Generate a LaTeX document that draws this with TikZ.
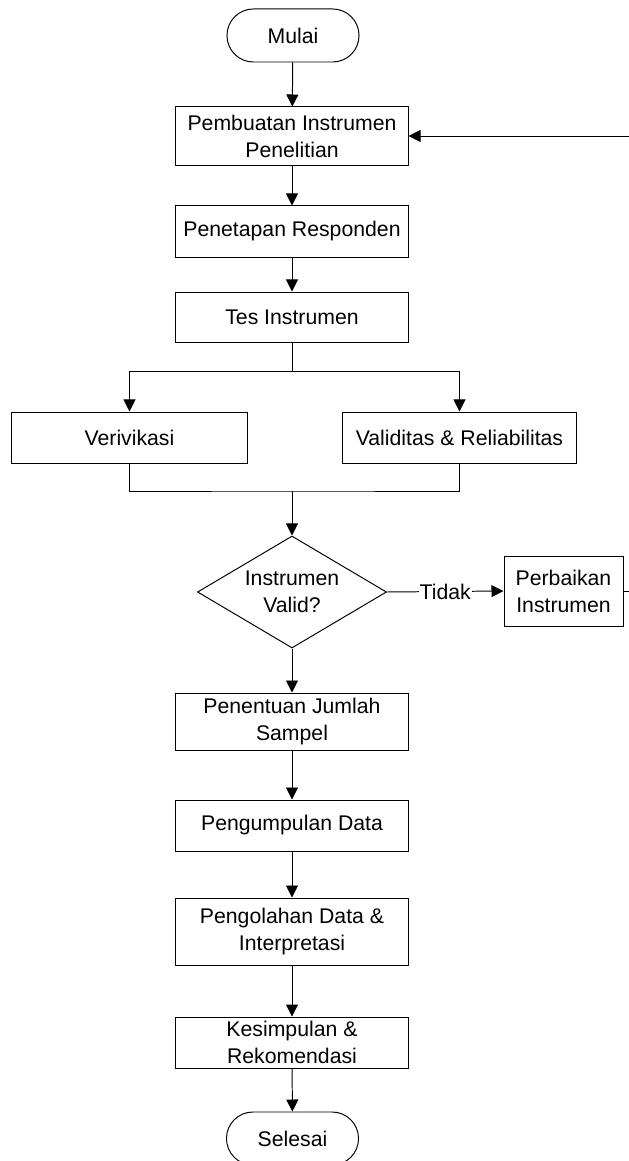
\documentclass[tikz,border=0pt]{standalone}
\usepackage{fontspec}
\setmainfont{Liberation Sans}
\usetikzlibrary{shapes.geometric,arrows.meta}

\tikzset{
  kotak/.style={draw,rectangle,minimum width=5.8cm,inner sep=0pt,align=center},
  terminal/.style={draw,rectangle,rounded corners=0.66cm,minimum width=3.3cm,minimum height=1.325cm,inner sep=0pt},
  keputusan/.style={draw,diamond,aspect=1.69,minimum width=4.725cm,minimum height=2.8cm,inner sep=0pt,align=center},
  panah/.style={-{Triangle[length=0.3cm,width=0.3cm]}}
}

\begin{document}
\begin{tikzpicture}[x=0.025cm,y=-0.025cm,line width=0.7pt,
    every node/.style={font=\fontsize{15.1}{19.2}\selectfont}]
    \useasboundingbox (0,0) rectangle (629,1161);
    % alur utama
    \node[terminal] (mulai) at (293,35.5) {Mulai};
    \node[kotak,minimum height=1.45cm] (buat) at (292,136) {Pembuatan Instrumen\\Penelitian};
    \node[kotak,minimum height=1.275cm] (tetap) at (292,231.5) {Penetapan Responden};
    \node[kotak,minimum height=1.25cm] (tes) at (292,317) {Tes Instrumen};
    \node[kotak,minimum width=5.875cm,minimum height=1.275cm] (verif) at (129.5,437.5) {Verivikasi};
    \node[kotak,minimum width=5.825cm,minimum height=1.275cm] (valid) at (459.5,437.5) {Validitas \& Reliabilitas};
    \coordinate (gabung) at (292,491);
    \node[keputusan] (cek) at (292,592) {Instrumen\\Valid?};
    \node[kotak,minimum width=2.975cm,minimum height=1.75cm] (perbaiki) at (563.5,591) {Perbaikan\\Instrumen};
    \coordinate (kanan1) at (629,591);
    \coordinate (kanan2) at (629,136);
    \node[kotak,minimum height=1.425cm] (sampel) at (292,721.5) {Penentuan Jumlah\\Sampel};
    \node[kotak,minimum height=1.275cm] (kumpul) at (292,825.5) {Pengumpulan Data};
    \node[kotak,minimum height=1.675cm] (olah) at (292,931.5) {Pengolahan Data \&\\Interpretasi};
    \node[kotak,minimum height=1.275cm] (simpul) at (292,1042.5) {Kesimpulan \&\\Rekomendasi};
    \node[terminal] (selesai) at (292.5,1138.5) {Selesai};

    \draw[panah] (mulai) -- (buat);
    \draw[panah] (buat) -- (tetap);
    \draw[panah] (tetap) -- (tes);
    \draw[panah] (tes.south) -- ++(0,29) -| (verif.north);
    \draw[panah] (tes.south) -- ++(0,29) -| (valid.north);
    \draw (verif.south) |- (gabung) -| (valid.south);
    \draw[panah] (gabung) -- (cek.north);
    % cabang tidak
    \draw[panah] (cek.east) -- node[fill=white,inner sep=0.5pt] {Tidak} (perbaiki.west);
    \draw (perbaiki.east) -- (kanan1);
    \draw[panah] (kanan2) -- (buat.east);
    \draw[panah] (cek.south) -- (sampel);
    \draw[panah] (sampel) -- (kumpul);
    \draw[panah] (kumpul) -- (olah);
    \draw[panah] (olah) -- (simpul);
    \draw[panah] (simpul) -- (selesai);
  \end{tikzpicture}
\end{document}
